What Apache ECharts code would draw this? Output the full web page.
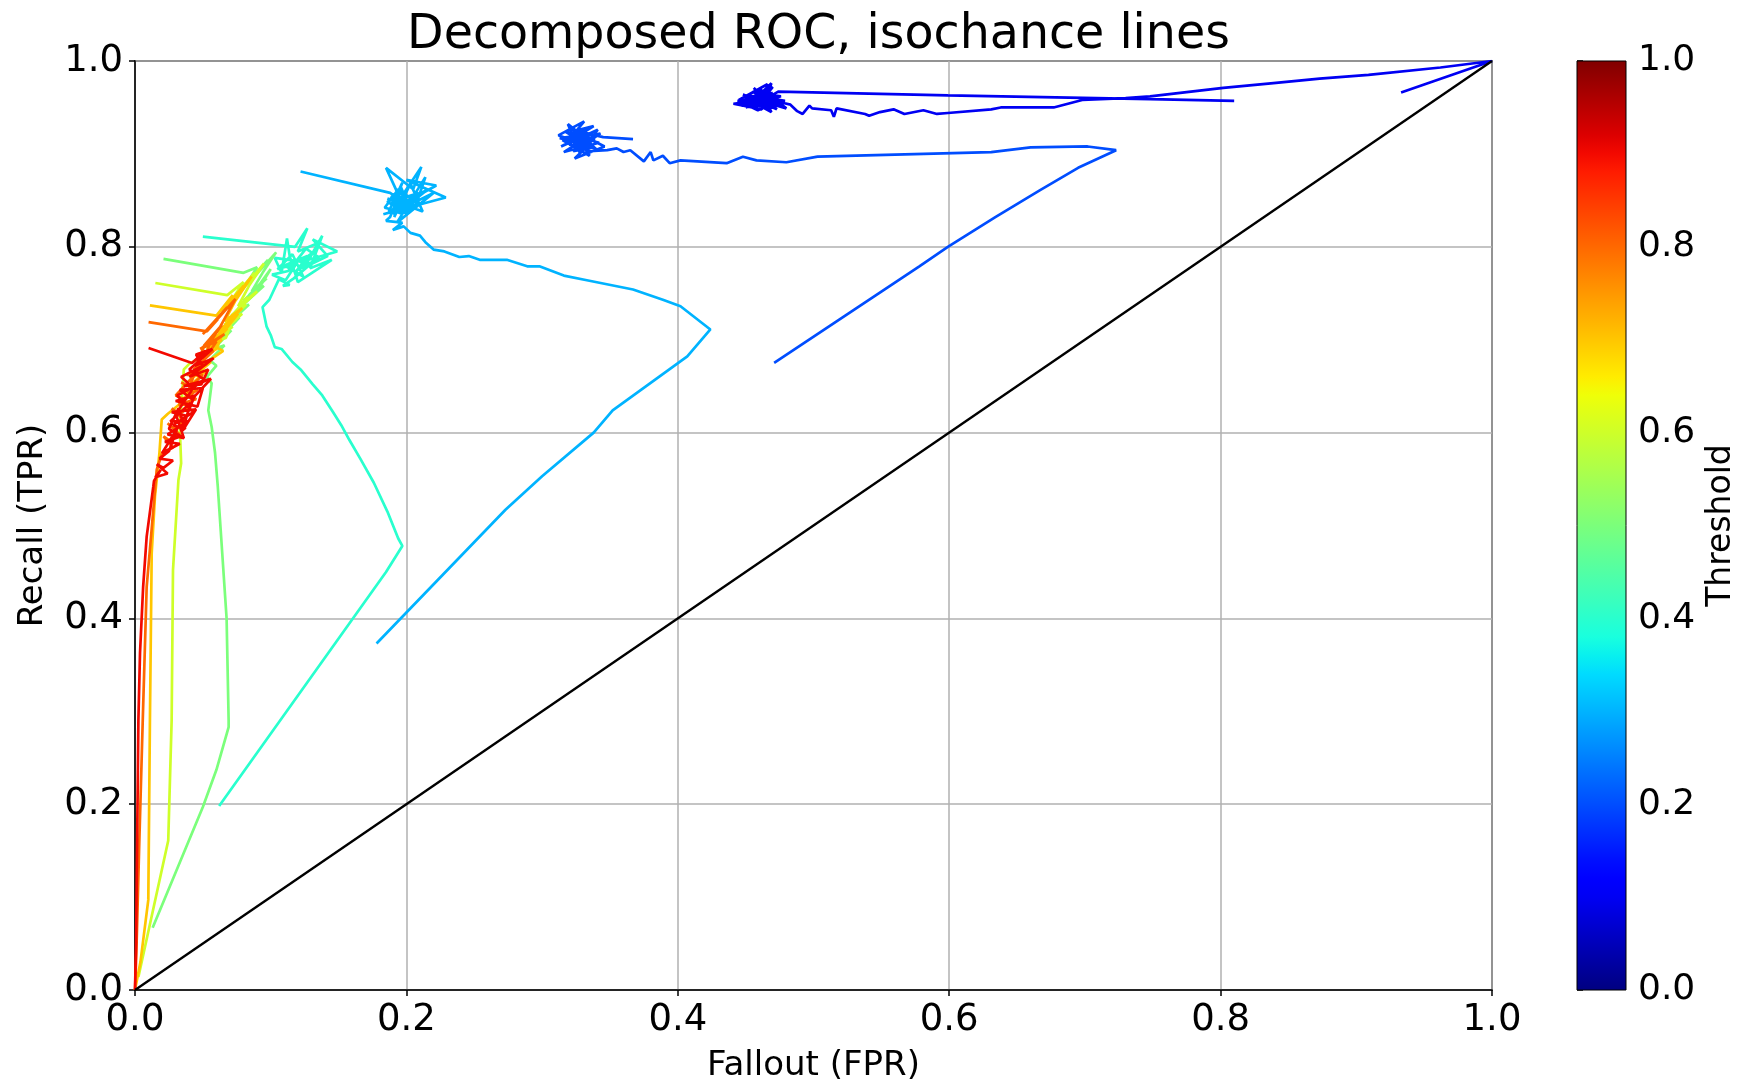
<!DOCTYPE html>
<html>
<head>
<meta charset="utf-8">
<title>Decomposed ROC, isochance lines</title>
<script src="https://cdn.jsdelivr.net/npm/echarts@6/dist/echarts.min.js"></script>
<style>
  html, body { margin: 0; padding: 0; background: #fff; }
  #chart { width: 1739px; height: 1079px; }
</style>
</head>
<body>
<div id="chart"></div>
<script>
// Threshold of each decomposed ROC curve (drives its colour on the jet map)
const thresholds = [0.1, 0.2, 0.3, 0.4, 0.5, 0.6, 0.7, 0.8, 0.9];

// Each curve: [fallout (FPR), recall (TPR)] points in drawing order
const curve10 = [
  [0.810,0.957],[0.748,0.959],[0.599,0.963],[0.474,0.967],
  [0.468,0.962],[0.452,0.955],[0.470,0.972],[0.458,0.950],[0.445,0.958],[0.466,0.975],
  [0.462,0.948],[0.441,0.954],[0.472,0.960],[0.455,0.967],[0.478,0.951],[0.449,0.961],
  [0.469,0.945],[0.460,0.970],[0.475,0.956],[0.447,0.952],[0.465,0.966],[0.480,0.949],
  [0.457,0.959],[0.469,0.976],[0.463,0.953],[0.451,0.963],[0.474,0.958],[0.459,0.947],
  [0.446,0.956],[0.467,0.969],[0.471,0.952],[0.454,0.960],[0.461,0.965],[0.476,0.962],
  [0.450,0.950],[0.464,0.957],[0.456,0.971],[0.473,0.948],[0.448,0.964],[0.466,0.954],
  [0.458,0.962],[0.479,0.957],[0.453,0.952],[0.470,0.966],[0.462,0.959],[0.444,0.957],
  [0.468,0.949],[0.477,0.955],[0.483,0.953],[0.488,0.946],[0.492,0.943],[0.497,0.952],
  [0.499,0.949],[0.513,0.947],[0.515,0.940],[0.517,0.949],[0.538,0.943],[0.541,0.941],
  [0.549,0.945],[0.559,0.948],[0.567,0.943],[0.581,0.947],[0.591,0.943],[0.599,0.944],
  [0.631,0.948],[0.638,0.950],[0.677,0.950],[0.698,0.958],[0.730,0.960],[0.748,0.962],
  [0.802,0.971],[0.837,0.976],[0.873,0.981],[0.909,0.985],[0.962,0.993],[1.000,1.000],
  [0.933,0.966]
];
const curve20 = [
  [0.367,0.916],[0.345,0.918],[0.325,0.925],[0.338,0.930],[0.318,0.912],[0.331,0.935],
  [0.312,0.920],[0.340,0.905],[0.322,0.928],[0.335,0.898],[0.315,0.915],[0.343,0.922],
  [0.327,0.906],[0.319,0.932],[0.336,0.912],[0.324,0.895],[0.346,0.908],[0.330,0.920],
  [0.314,0.908],[0.341,0.926],[0.328,0.901],[0.321,0.918],[0.333,0.910],[0.317,0.924],
  [0.339,0.916],[0.326,0.913],[0.313,0.917],[0.334,0.921],[0.323,0.903],[0.337,0.907],
  [0.320,0.910],[0.332,0.927],[0.329,0.914],[0.316,0.902],[0.342,0.912],[0.325,0.919],
  [0.335,0.903],[0.348,0.904],[0.355,0.906],[0.360,0.902],
  [0.365,0.904],[0.375,0.892],[0.380,0.902],[0.382,0.893],[0.389,0.898],[0.394,0.890],
  [0.402,0.893],[0.436,0.890],[0.448,0.897],[0.458,0.893],[0.480,0.891],[0.503,0.897],
  [0.553,0.899],[0.631,0.902],[0.660,0.907],[0.702,0.908],[0.723,0.904],[0.695,0.885],
  [0.667,0.861],[0.634,0.832],[0.599,0.800],[0.578,0.779],[0.471,0.675]
];
const curve30 = [
  [0.122,0.881],[0.188,0.858],[0.196,0.850],[0.185,0.885],[0.205,0.862],[0.211,0.886],
  [0.190,0.840],[0.222,0.866],[0.200,0.872],[0.229,0.853],[0.183,0.835],[0.207,0.845],
  [0.214,0.875],[0.193,0.826],[0.220,0.858],[0.199,0.843],[0.186,0.852],[0.212,0.838],
  [0.203,0.868],[0.191,0.832],[0.198,0.856],[0.188,0.846],[0.204,0.851],[0.194,0.862],
  [0.184,0.842],[0.201,0.836],[0.209,0.858],[0.192,0.850],[0.197,0.869],[0.187,0.838],
  [0.206,0.842],[0.195,0.836],[0.189,0.855],[0.202,0.846],[0.216,0.862],[0.194,0.844],
  [0.191,0.858],[0.199,0.840],[0.186,0.848],[0.196,0.864],[0.203,0.840],[0.190,0.836],
  [0.200,0.852],[0.193,0.841],[0.208,0.850],[0.195,0.858],[0.188,0.832],
  [0.185,0.828],[0.197,0.826],[0.190,0.818],[0.198,0.822],[0.203,0.815],
  [0.210,0.812],[0.214,0.805],[0.220,0.797],[0.228,0.795],[0.239,0.789],[0.246,0.790],
  [0.254,0.786],[0.274,0.786],[0.289,0.779],[0.298,0.779],[0.316,0.769],[0.333,0.764],
  [0.367,0.754],[0.389,0.743],[0.402,0.736],[0.424,0.711],[0.407,0.682],[0.352,0.624],
  [0.338,0.600],[0.300,0.553],[0.273,0.517],[0.178,0.373]
];
const curve40 = [
  [0.050,0.811],[0.118,0.800],[0.127,0.820],[0.120,0.795],[0.135,0.804],[0.128,0.786],
  [0.149,0.795],[0.131,0.808],[0.142,0.790],[0.125,0.778],[0.138,0.812],[0.129,0.777],
  [0.145,0.786],[0.120,0.762],[0.114,0.790],[0.112,0.809],[0.108,0.772],[0.103,0.788],
  [0.122,0.784],[0.133,0.796],[0.118,0.772],[0.127,0.790],[0.110,0.780],[0.124,0.768],
  [0.116,0.792],[0.105,0.776],[0.119,0.782],[0.111,0.764],[0.101,0.770],[0.113,0.774],
  [0.126,0.798],[0.136,0.788],[0.121,0.776],[0.130,0.782],[0.117,0.766],[0.109,0.758],
  [0.114,0.759],[0.106,0.765],[0.099,0.743],[0.094,0.735],[0.097,0.714],[0.100,0.705],
  [0.103,0.692],[0.108,0.690],[0.116,0.676],[0.122,0.668],[0.131,0.652],[0.138,0.640],
  [0.146,0.622],[0.152,0.608],[0.158,0.592],[0.166,0.572],[0.176,0.546],[0.186,0.515],
  [0.194,0.486],[0.197,0.478],[0.185,0.450],[0.062,0.198]
];
const curve50 = [
  [0.021,0.787],[0.080,0.772],[0.090,0.778],[0.082,0.760],[0.098,0.786],[0.088,0.768],
  [0.104,0.794],[0.094,0.772],[0.086,0.752],[0.097,0.766],[0.080,0.742],[0.090,0.752],
  [0.100,0.776],[0.092,0.760],[0.084,0.748],[0.095,0.758],
  [0.074,0.730],[0.084,0.738],[0.068,0.716],[0.077,0.724],[0.063,0.702],[0.071,0.710],
  [0.058,0.690],[0.066,0.694],[0.055,0.678],[0.060,0.672],[0.053,0.660],[0.0565,0.653],
  [0.054,0.624],[0.0565,0.606],[0.059,0.578],[0.061,0.542],[0.0675,0.400],[0.069,0.290],
  [0.069,0.283],[0.060,0.237],[0.050,0.197],[0.013,0.067]
];
const curve60 = [
  [0.015,0.761],[0.068,0.748],[0.080,0.762],[0.072,0.744],[0.088,0.772],[0.078,0.752],
  [0.095,0.782],[0.084,0.758],[0.076,0.736],[0.090,0.752],[0.071,0.726],[0.082,0.738],
  [0.066,0.716],[0.077,0.726],[0.062,0.706],[0.072,0.714],[0.058,0.698],[0.067,0.702],
  [0.074,0.730],[0.083,0.746],[0.070,0.720],[0.079,0.728],[0.064,0.708],
  [0.053,0.690],[0.062,0.694],[0.049,0.684],[0.057,0.688],[0.045,0.678],[0.040,0.674],
  [0.036,0.668],[0.033,0.606],[0.034,0.567],
  [0.032,0.549],[0.028,0.452],[0.027,0.290],[0.0245,0.161],[0.0025,0.014]
];
const curve70 = [
  [0.011,0.737],[0.060,0.726],[0.072,0.748],[0.064,0.730],[0.080,0.758],[0.069,0.737],
  [0.086,0.768],[0.074,0.742],[0.066,0.720],[0.079,0.734],[0.061,0.708],[0.072,0.722],
  [0.058,0.700],[0.068,0.712],[0.054,0.690],[0.064,0.700],[0.050,0.682],[0.060,0.690],
  [0.067,0.716],[0.076,0.728],[0.063,0.704],[0.057,0.694],[0.065,0.688],
  [0.047,0.670],[0.056,0.676],[0.043,0.660],[0.052,0.666],[0.040,0.650],[0.048,0.654],
  [0.036,0.642],[0.044,0.646],[0.033,0.634],[0.039,0.638],[0.029,0.626],[0.024,0.620],
  [0.0197,0.614],[0.018,0.578],[0.0147,0.531],[0.0123,0.470],[0.011,0.290],
  [0.0098,0.097],[0.004,0.030],[0,0]
];
const curve80 = [
  [0.010,0.719],[0.053,0.709],[0.061,0.722],[0.050,0.706],[0.068,0.735],[0.057,0.716],
  [0.074,0.744],[0.062,0.712],[0.054,0.694],[0.066,0.706],[0.048,0.690],[0.060,0.698],
  [0.052,0.680],[0.045,0.684],[0.058,0.688],[0.043,0.668],[0.053,0.674],[0.038,0.662],
  [0.050,0.662],[0.041,0.650],[0.034,0.654],[0.046,0.646],[0.036,0.636],[0.030,0.640],
  [0.040,0.656],[0.049,0.670],[0.056,0.700],[0.064,0.716],[0.051,0.694],[0.047,0.676],
  [0.039,0.644],[0.045,0.636],[0.032,0.630],
  [0.042,0.630],[0.033,0.620],[0.027,0.626],[0.037,0.612],[0.029,0.604],[0.024,0.610],
  [0.033,0.598],[0.025,0.592],[0.021,0.596],[0.028,0.584],[0.020,0.578],
  [0.016,0.560],[0.0125,0.500],[0.0086,0.434],[0.0057,0.290],[0.003,0.150],[0.001,0.040],
  [0,0]
];
const curve90 = [
  [0.010,0.691],[0.042,0.675],[0.052,0.688],[0.044,0.672],[0.058,0.680],[0.040,0.660],
  [0.054,0.668],[0.049,0.652],[0.036,0.650],[0.056,0.658],[0.042,0.636],[0.033,0.646],
  [0.050,0.648],[0.046,0.628],[0.030,0.634],[0.044,0.640],[0.038,0.618],[0.027,0.622],
  [0.045,0.625],[0.035,0.602],[0.041,0.632],[0.026,0.612],[0.039,0.612],[0.024,0.598],
  [0.036,0.594],[0.030,0.620],[0.043,0.648],[0.034,0.660],[0.050,0.672],[0.045,0.684],
  [0.057,0.690],[0.040,0.668],[0.052,0.656],[0.031,0.640],[0.043,0.622],[0.028,0.608],
  [0.037,0.604],[0.032,0.626],[0.025,0.604],[0.034,0.596],
  [0.022,0.590],[0.033,0.588],[0.020,0.578],[0.031,0.604],
  [0.025,0.580],[0.018,0.572],[0.028,0.570],[0.021,0.562],[0.016,0.566],[0.024,0.556],
  [0.015,0.552],[0.019,0.560],[0.014,0.548],
  [0.0135,0.542],[0.0086,0.488],
  [0.006,0.434],[0.0037,0.363],[0.0025,0.290],[0.0015,0.150],[0.0008,0.050],[0,0]
];
const curves = [curve10, curve20, curve30, curve40, curve50, curve60, curve70, curve80, curve90];

// Chance diagonal
const chanceLine = [[0, 0], [1, 1]];

// Axis ticks
const axisTicks = [0.0, 0.2, 0.4, 0.6, 0.8, 1.0];

// matplotlib "jet" colormap, piecewise-linear segments
const jetSeg = {
  r: [[0, 0], [0.35, 0], [0.66, 1], [0.89, 1], [1, 0.5]],
  g: [[0, 0], [0.125, 0], [0.375, 1], [0.64, 1], [0.91, 0], [1, 0]],
  b: [[0, 0.5], [0.11, 1], [0.34, 1], [0.65, 0], [1, 0]]
};
function interpSeg(seg, t) {
  for (let i = 1; i < seg.length; i++) {
    if (t <= seg[i][0]) {
      const [x0, y0] = seg[i - 1], [x1, y1] = seg[i];
      return y0 + (y1 - y0) * (t - x0) / (x1 - x0);
    }
  }
  return seg[seg.length - 1][1];
}
function jet(t) {
  const r = Math.round(255 * interpSeg(jetSeg.r, t));
  const g = Math.round(255 * interpSeg(jetSeg.g, t));
  const b = Math.round(255 * interpSeg(jetSeg.b, t));
  return `rgb(${r},${g},${b})`;
}

const FONT = 'DejaVu Sans';
const plot = { left: 135, top: 61, width: 1357, height: 929 };
const cbar = { left: 1577, top: 61, width: 49, height: 929 };

const gradientStops = [];
for (let i = 0; i <= 50; i++) {
  const t = i / 50;
  gradientStops.push({ offset: t, color: jet(t) });
}

const series = curves.map((pts, i) => ({
  type: 'line',
  name: 'T=' + thresholds[i].toFixed(1),
  xAxisIndex: 0, yAxisIndex: 0,
  data: pts,
  showSymbol: false,
  symbol: 'none',
  lineStyle: { color: jet(thresholds[i]), width: 2.7 },
  z: 3 + i,
  silent: true
}));

series.push({
  type: 'line',
  name: 'chance',
  xAxisIndex: 0, yAxisIndex: 0,
  data: chanceLine,
  showSymbol: false,
  symbol: 'none',
  lineStyle: { color: '#000', width: 2.4 },
  z: 20,
  silent: true
});

// Colour bar drawn on its own value axis
series.push({
  type: 'custom',
  xAxisIndex: 1, yAxisIndex: 1,
  data: [[0, 0, 1, 1]],
  silent: true,
  renderItem: function (params, api) {
    const p0 = api.coord([api.value(0), api.value(1)]);
    const p1 = api.coord([api.value(2), api.value(3)]);
    return {
      type: 'rect',
      shape: { x: p0[0], y: p1[1], width: p1[0] - p0[0], height: p0[1] - p1[1] },
      style: {
        fill: new echarts.graphic.LinearGradient(0, 1, 0, 0, gradientStops),
        stroke: '#000',
        lineWidth: 1
      }
    };
  }
});

const tickFmt = v => v.toFixed(1);

const option = {
  animation: false,
  backgroundColor: '#fff',
  textStyle: { fontFamily: FONT },
  title: {
    text: 'Decomposed ROC, isochance lines',
    left: plot.left + plot.width / 2,
    top: 7,
    textAlign: 'center',
    textStyle: { fontFamily: FONT, fontSize: 47.5, fontWeight: 'normal', color: '#000' }
  },
  grid: [
    Object.assign({ show: true, borderColor: '#000', borderWidth: 1.5, backgroundColor: 'transparent',
                    containLabel: false, outerBoundsMode: 'none' }, plot),
    Object.assign({ show: false, containLabel: false, outerBoundsMode: 'none' }, cbar)
  ],
  xAxis: [
    {
      gridIndex: 0, type: 'value', min: 0, max: 1, interval: 0.2,
      name: 'Fallout (FPR)', nameLocation: 'middle', nameGap: 59,
      nameTextStyle: { fontFamily: FONT, fontSize: 34, color: '#000' },
      axisLine: { show: true, lineStyle: { color: '#000', width: 1.5 } },
      axisTick: { show: true, length: 6, inside: false, lineStyle: { color: '#000', width: 1.5 } },
      axisLabel: { formatter: tickFmt, fontFamily: FONT, fontSize: 37, color: '#000', margin: 12 },
      splitLine: { show: true, lineStyle: { color: '#b0b0b0', width: 1.5 } }
    },
    {
      gridIndex: 1, type: 'value', min: 0, max: 1, show: false
    }
  ],
  yAxis: [
    {
      gridIndex: 0, type: 'value', min: 0, max: 1, interval: 0.2,
      name: 'Recall (TPR)', nameLocation: 'middle', nameGap: 85, nameRotate: 90,
      nameTextStyle: { fontFamily: FONT, fontSize: 34, color: '#000' },
      axisLine: { show: true, lineStyle: { color: '#000', width: 1.5 } },
      axisTick: { show: true, length: 6, inside: false, lineStyle: { color: '#000', width: 1.5 } },
      axisLabel: { formatter: tickFmt, fontFamily: FONT, fontSize: 37, color: '#000', margin: 12 },
      splitLine: { show: true, lineStyle: { color: '#b0b0b0', width: 1.5 } }
    },
    {
      gridIndex: 1, type: 'value', min: 0, max: 1, interval: 0.2, position: 'right',
      name: 'Threshold', nameLocation: 'middle', nameGap: 79, nameRotate: 90,
      nameTextStyle: { fontFamily: FONT, fontSize: 33, color: '#000' },
      axisLine: { show: false },
      axisTick: { show: true, length: 6, inside: false, lineStyle: { color: '#000', width: 1.5 } },
      axisLabel: { formatter: tickFmt, fontFamily: FONT, fontSize: 36, color: '#000', margin: 12 },
      splitLine: { show: false }
    }
  ],
  series: series
};

const chart = echarts.init(document.getElementById('chart'), null, { renderer: 'canvas' });
chart.setOption(option);
</script>
</body>
</html>
